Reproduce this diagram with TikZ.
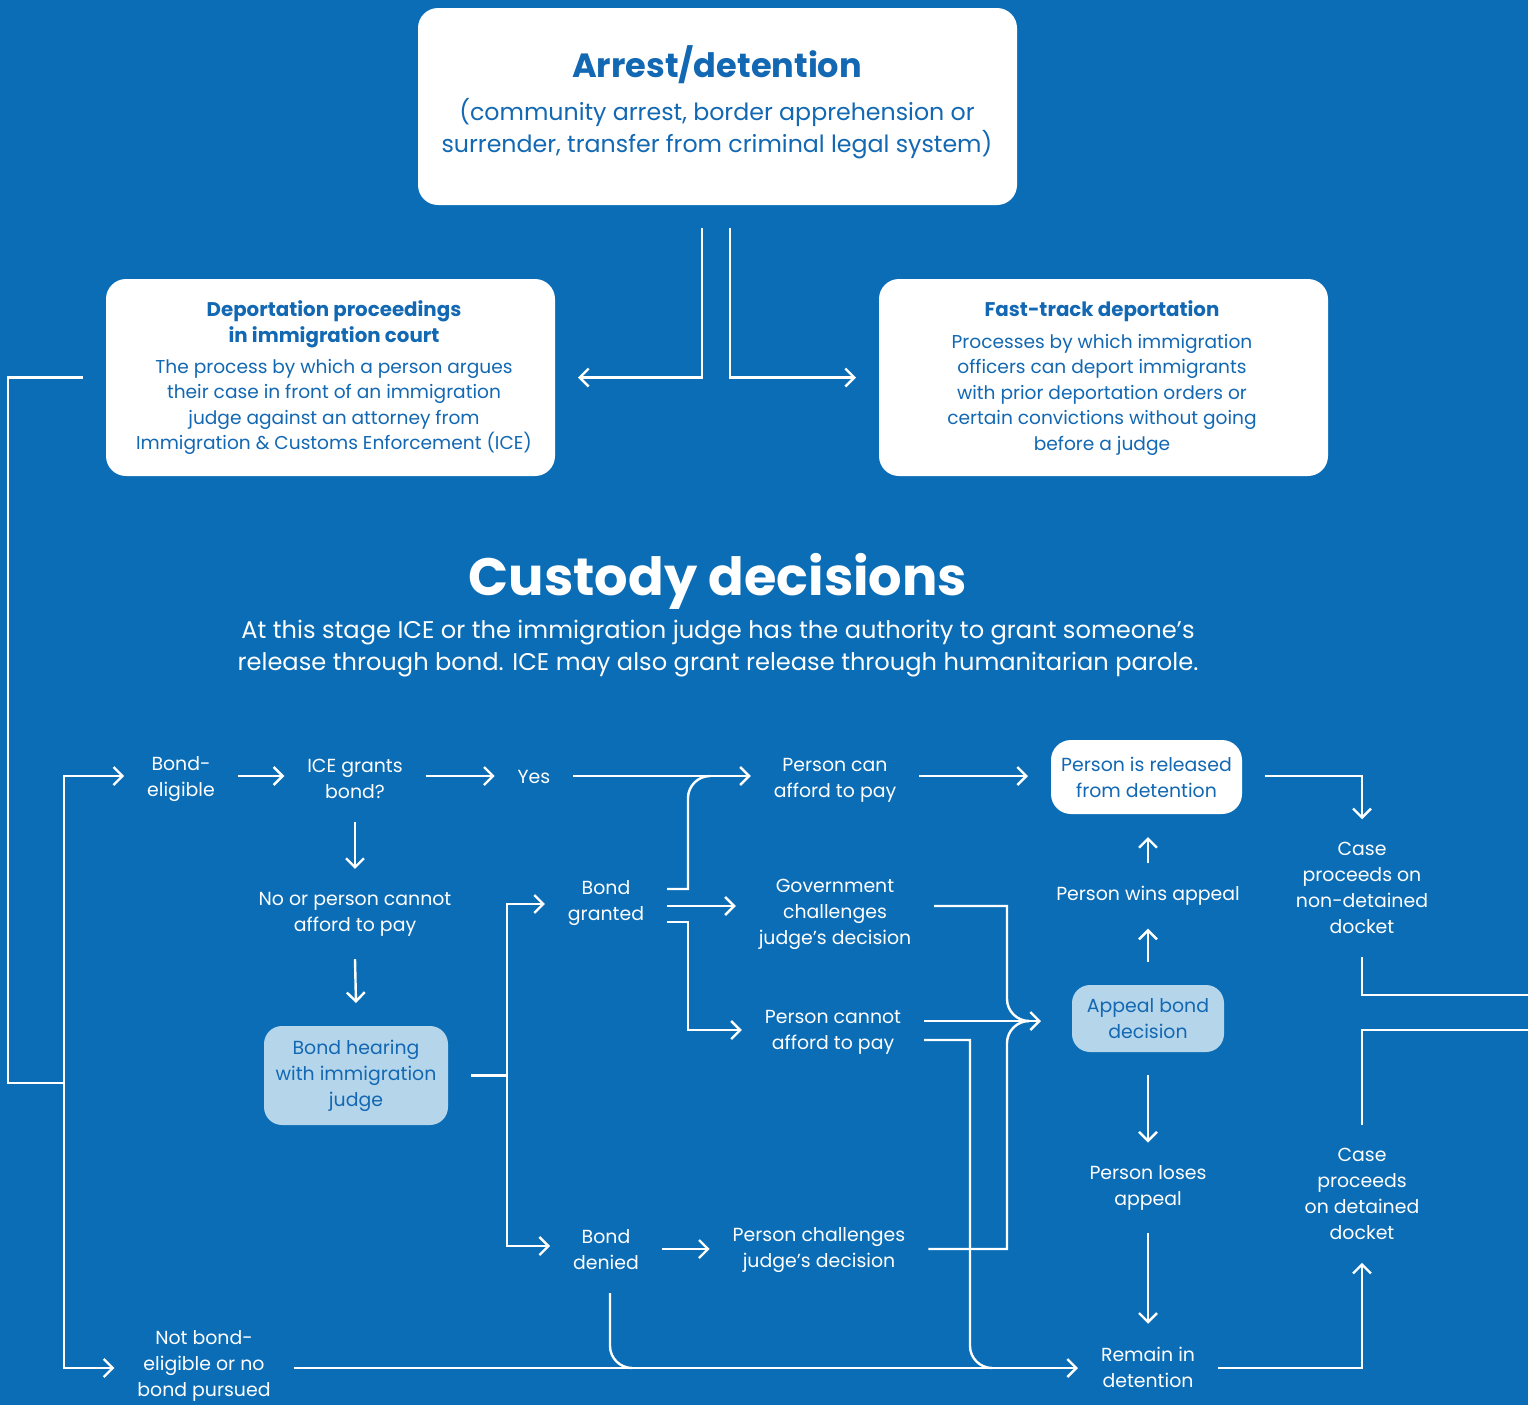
\documentclass[tikz,border=0pt]{standalone}
\usepackage{fontspec}
\setmainfont{Poppins}
\usetikzlibrary{arrows.meta}
\definecolor{bg}{RGB}{10,109,182}
\definecolor{dk}{RGB}{18,104,178}
\definecolor{lt}{RGB}{181,213,235}
\tikzset{
 lbl/.style={text=white, align=center, inner sep=0pt, outer sep=11.5pt, font=\fontsize{9.45}{13}\selectfont},
 wbox/.style={fill=white, rounded corners=10pt, inner sep=0pt, outer sep=11.5pt},
 lbox/.style={fill=lt, rounded corners=9pt, inner sep=0pt, outer sep=11.5pt, text=dk, align=center, font=\fontsize{9.45}{13}\selectfont},
 ln/.style={draw=white, line width=1.2pt},
 arr/.style={ln, -{Straight Barb[length=4.5pt,width=9pt]}},
 btxt/.style={text=dk, align=center, inner sep=0pt, font=\fontsize{9.3}{12.75}\selectfont},
 bttl/.style={text=dk, align=center, inner sep=0pt, font=\bfseries\fontsize{9.9}{13}\selectfont},
}
\begin{document}
\begin{tikzpicture}[x=0.5pt,y=-0.5pt]
\fill[bg] (0,0) rectangle (1528,1405);
\useasboundingbox (0,0) rectangle (1528,1405);

% top box
\node[wbox, minimum width=299.5pt, minimum height=98.5pt] (arrest) at (717.5,106.5) {};
\node[text=dk, font=\bfseries\fontsize{16.8}{20}\selectfont, inner sep=0pt] (arrestT) at (717,65) {Arrest/detention};
\node[text=dk, align=center, inner sep=0pt, font=\fontsize{11.85}{16}\selectfont] (arrestB) at (717,129) {(community arrest, border apprehension or\\surrender, transfer from criminal legal system)};

% deportation box
\node[wbox, minimum width=224.5pt, minimum height=98.5pt] (dep) at (330.5,377.5) {};
\node[bttl] (depT) at (334,324.5) {Deportation proceedings\\in immigration court};
\node[btxt] (depB) at (334,407) {The process by which a person argues\\their case in front of an immigration\\judge against an attorney from\\Immigration \& Customs Enforcement (ICE)};

% fast-track box
\node[wbox, minimum width=224.5pt, minimum height=98.5pt] (fast) at (1103.5,377.5) {};
\node[bttl] (fastT) at (1102,311) {Fast-track deportation};
\node[btxt] (fastB) at (1102,394.5) {Processes by which immigration\\officers can deport immigrants\\with prior deportation orders or\\certain convictions without going\\before a judge};

% heading
\node[text=white, inner sep=0pt, font=\bfseries\fontsize{26.3}{32}\selectfont] (cust) at (718,581) {Custody decisions};
\node[text=white, align=center, inner sep=0pt, font=\fontsize{12.07}{16}\selectfont] (custB) at (718,649) {At this stage ICE or the immigration judge has the authority to grant someone’s\\release through bond. ICE may also grant release through humanitarian parole.};

% flow nodes
\node[lbl] (be) at (181,779) {Bond-\\eligible};
\node[lbl] (ice) at (355,779) {ICE grants\\bond?};
\node[lbl] (yes) at (534,777) {Yes};
\node[lbl] (can) at (835,780) {Person can\\afford to pay};
\node[wbox, minimum width=95.5pt, minimum height=37pt, text=dk, align=center, font=\fontsize{9.45}{13}\selectfont] (rel) at (1146.5,777) {Person is released\\from detention};
\node[lbl] (ndd) at (1362,888) {Case\\proceeds on\\non-detained\\docket};
\node[lbl] (nop) at (355,914) {No or person cannot\\afford to pay};
\node[lbox, minimum width=92pt, minimum height=49.5pt] (bh) at (356,1075.5) {Bond hearing\\with immigration\\judge};
\node[lbl] (bg) at (606,903) {Bond\\granted};
\node[lbl] (gov) at (835,914.5) {Government\\challenges\\judge’s decision};
\node[lbl] (cant) at (833,1032) {Person cannot\\afford to pay};
\node[lbl] (wins) at (1148,896) {Person wins appeal};
\node[lbox, minimum width=76pt, minimum height=33.5pt] (ab) at (1148,1018.5) {Appeal bond\\decision};
\node[lbl] (loses) at (1148,1188) {Person loses\\appeal};
\node[lbl] (dd) at (1362,1194) {Case\\proceeds\\on detained\\docket};
\node[lbl] (bd) at (606,1250) {Bond\\denied};
\node[lbl] (pc) at (819,1250) {Person challenges\\judge’s decision};
\node[lbl] (nbe) at (204,1366) {Not bond-\\eligible or no\\bond pursued};
\node[lbl] (rem) at (1148,1367) {Remain in\\detention};

% helper coordinates
\coordinate (lb) at (8,1083);
\coordinate (sp) at (64,1083);
\coordinate (bs) at (507,1075.5);
\coordinate (e1) at (1528,995);
\coordinate (e2) at (1528,1030);

% connectors
\draw[arr] ([xshift=-7.75pt]arrest.south) |- (dep.east);
\draw[arr] ([xshift=6.25pt]arrest.south) |- (fast.west);
\draw[ln] (dep.west) -| (lb) -- (sp);
\draw[arr] (sp) |- (be.west |- 0,776);
\draw[arr] (sp) |- (nbe.west |- 0,1368);
\draw[arr] (be.east |- 0,776) -- (ice.west |- 0,776);
\draw[arr] (ice.east |- 0,776) -- (yes.west |- 0,776);
\draw[arr] (yes.east |- 0,776) -- (can.west |- 0,776);
\draw[arr] (can.east |- 0,776) -- (rel.west |- 0,776);
\draw[arr] (rel.east |- 0,776) -| (ndd.north);
\draw[ln] (ndd.south) |- (e1);
\draw[ln] (e2) -| (dd.north);
\draw[arr] (rem.east |- 0,1368) -| (dd.south);
\draw[arr] (ice.south) -- (nop.north);
\draw[arr] (nop.south) -- (bh.north);
\draw[ln] (bh.east) -- (bs);
\draw[arr] (bs) |- (bg.west |- 0,904);
\draw[arr] (bs) |- (bd.west |- 0,1246);
\draw[ln] (bg.east |- 0,889) -- (688,889) -- (688,798) .. controls (688,786) and (698,776) .. (710,776);
\draw[arr] (bg.east |- 0,906) -- (gov.west |- 0,906);
\draw[arr] (bg.east |- 0,922) -- (688,922) |- (cant.west |- 0,1030);
\draw[ln] (gov.east |- 0,906) -- (1007,906) -- (1007,999) .. controls (1007,1011) and (1017,1021) .. (1029,1021);
\draw[arr, shorten >=4pt] (cant.east |- 0,1021) -- (ab.west |- 0,1021);
\draw[ln] (pc.east |- 0,1249) -- (1007,1249) -- (1007,1043) .. controls (1007,1031) and (1017,1021) .. (1029,1021);
\draw[ln] (cant.east |- 0,1040) -- (970,1040) -- (970,1346) .. controls (970,1358) and (980,1368) .. (992,1368);
\draw[ln] (bd.south -| 610,0) -- (610,1346) .. controls (610,1358) and (620,1368) .. (632,1368);
\draw[arr] (bd.east |- 0,1249) -- (pc.west |- 0,1249);
\draw[arr] (nbe.east |- 0,1368) -- (rem.west |- 0,1368);
\draw[arr] (ab.north) -- (wins.south);
\draw[arr] (wins.north) -- (wins.north |- rel.south);
\draw[arr] (ab.south) -- (loses.north);
\draw[arr] (loses.south) -- (rem.north);
\end{tikzpicture}
\end{document}
